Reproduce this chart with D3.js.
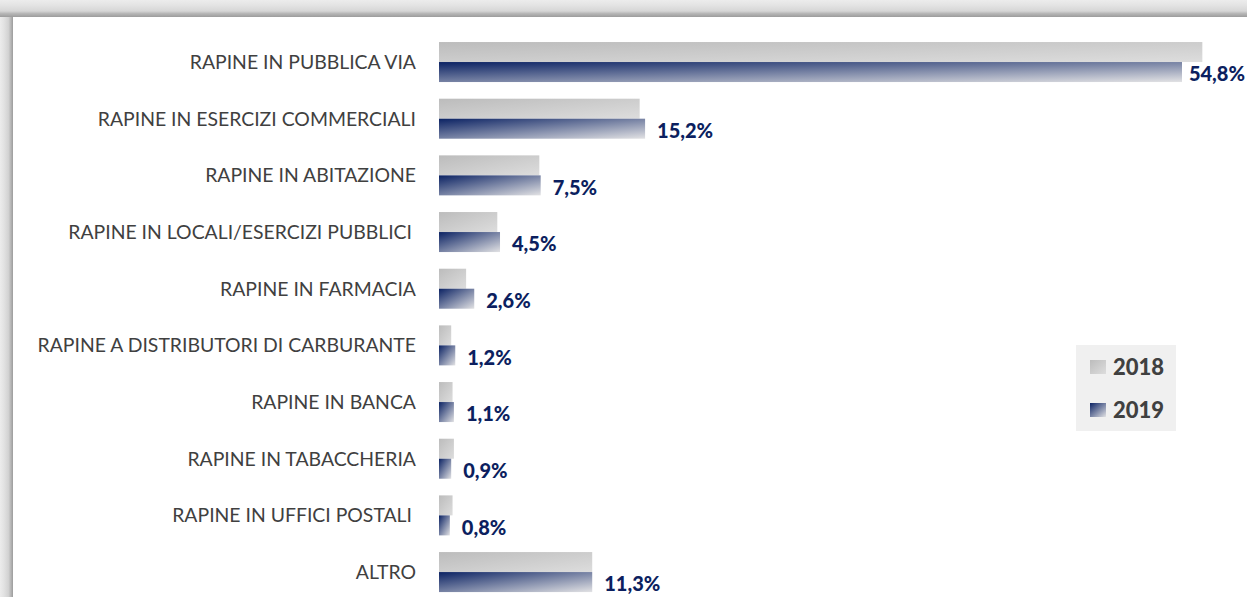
<!DOCTYPE html>
<html>
<head>
<meta charset="utf-8">
<script src="https://cdn.jsdelivr.net/npm/d3@7"></script>
<style>
  html, body { margin: 0; padding: 0; background: #fff; }
  .cat { font-family: Lato, sans-serif; font-size: 19.4px; fill: #404040; }
  .val { font-family: Lato, sans-serif; font-size: 20px; font-weight: 900; fill: #0c1f5f; }
  .leg { font-family: Lato, sans-serif; font-size: 22px; font-weight: 900; fill: #404040; }
</style>
</head>
<body>
<script>
var W = 1247, H = 597;

// data
var categories = [
  "RAPINE IN PUBBLICA VIA",
  "RAPINE IN ESERCIZI COMMERCIALI",
  "RAPINE IN ABITAZIONE",
  "RAPINE IN LOCALI/ESERCIZI PUBBLICI",
  "RAPINE IN FARMACIA",
  "RAPINE A DISTRIBUTORI DI CARBURANTE",
  "RAPINE IN BANCA",
  "RAPINE IN TABACCHERIA",
  "RAPINE IN UFFICI POSTALI",
  "ALTRO"
];
var years = ["2018", "2019"];
var values2018 = [56.3, 14.8, 7.4, 4.3, 2.0, 0.9, 1.0, 1.1, 1.0, 11.3];
var values2019 = [54.8, 15.2, 7.5, 4.5, 2.6, 1.2, 1.1, 0.9, 0.8, 11.3];
var labels2019 = ["54,8%", "15,2%", "7,5%", "4,5%", "2,6%", "1,2%", "1,1%", "0,9%", "0,8%", "11,3%"];
// some labels carry a trailing blank in the source
var labelPad = [0, 0, 0, 4, 0, 0, 0, 0, 4, 0];

var rows = categories.map(function(c, i) {
  return {cat: c, v2018: values2018[i], v2019: values2019[i], lab: labels2019[i], pad: labelPad[i]};
});

var svg = d3.select("body").append("svg")
    .attr("width", W)
    .attr("height", H);

var defs = svg.append("defs");

// bar gradients (diagonal, scaled with the bar)
function diag(id, c0, c1) {
  var g = defs.append("linearGradient").attr("id", id)
      .attr("x1", 0).attr("y1", 0).attr("x2", 1).attr("y2", 1);
  g.append("stop").attr("offset", 0).attr("stop-color", c0);
  g.append("stop").attr("offset", 1).attr("stop-color", c1);
}
diag("g2018", "#bcbcbc", "#dddddd");
diag("g2019", "#0b2263", "#e2e2e4");

// frame shadow
var gTop = defs.append("linearGradient").attr("id", "frameTop")
    .attr("x1", 0).attr("y1", 0).attr("x2", 0).attr("y2", 1);
[[0, "#ececec"], [0.3, "#e4e4e4"], [0.65, "#d6d6d6"], [0.8, "#b6b6b6"], [1, "#9c9c9c"]].forEach(function(s) {
  gTop.append("stop").attr("offset", s[0]).attr("stop-color", s[1]);
});
var gLeft = defs.append("linearGradient").attr("id", "frameLeft")
    .attr("x1", 0).attr("y1", 0).attr("x2", 1).attr("y2", 0);
[[0, "#ececec"], [0.3, "#e2e2e2"], [0.65, "#d2d2d2"], [0.85, "#b4b4b4"], [1, "#9c9c9c"]].forEach(function(s) {
  gLeft.append("stop").attr("offset", s[0]).attr("stop-color", s[1]);
});

svg.append("rect").attr("x", 0).attr("y", 0).attr("width", W).attr("height", H).attr("fill", "#ffffff");
svg.append("rect").attr("x", 0).attr("y", 0).attr("width", 13).attr("height", H).attr("fill", "url(#frameLeft)");
svg.append("rect").attr("x", 0).attr("y", 0).attr("width", W).attr("height", 17).attr("fill", "url(#frameTop)");

// scales
var x = d3.scaleLinear()
    .domain([0, 60])
    .range([439, 1252.5]);

var y = d3.scaleBand()
    .domain(categories)
    .range([33.7, 600.4])
    .paddingInner(0.294)
    .paddingOuter(0.147);

var ySub = d3.scaleBand()
    .domain(years)
    .range([0, y.bandwidth()]);

// category labels
svg.append("g").selectAll("text")
    .data(rows)
    .enter()
    .append("text")
    .attr("class", "cat")
    .attr("x", function(d) { return 416 - d.pad; })
    .attr("y", function(d) { return y(d.cat) + y.bandwidth() / 2; })
    .attr("dy", "0.36em")
    .attr("text-anchor", "end")
    .text(function(d) { return d.cat; });

// bars
var groups = svg.append("g").selectAll("g")
    .data(rows)
    .enter()
    .append("g")
    .attr("transform", function(d) { return "translate(0," + y(d.cat) + ")"; });

groups.append("rect")
    .attr("x", x(0))
    .attr("y", ySub("2018"))
    .attr("width", function(d) { return x(d.v2018) - x(0); })
    .attr("height", ySub.bandwidth())
    .attr("fill", "url(#g2018)");

groups.append("rect")
    .attr("x", x(0))
    .attr("y", ySub("2019"))
    .attr("width", function(d) { return x(d.v2019) - x(0); })
    .attr("height", ySub.bandwidth())
    .attr("fill", "url(#g2019)");

// value labels (2019)
groups.append("text")
    .attr("class", "val")
    .attr("x", function(d) { return x(d.v2019) + 12; })
    .attr("y", ySub("2019") + ySub.bandwidth() / 2 + 2)
    .attr("dy", "0.36em")
    .text(function(d) { return d.lab; })
    .each(function() {
      // keep the label inside the picture
      var w = this.getComputedTextLength();
      var xx = +d3.select(this).attr("x");
      if (xx + w > W - 2) d3.select(this).attr("x", W - 2 - w);
    });

// legend
var leg = svg.append("g").attr("transform", "translate(1076,345)");
leg.append("rect")
    .attr("width", 100)
    .attr("height", 86)
    .attr("fill", "#f0f0f0");

var legItems = leg.selectAll("g.item")
    .data(years)
    .enter()
    .append("g")
    .attr("class", "item")
    .attr("transform", function(d, i) { return "translate(14," + (22 + i * 43) + ")"; });

legItems.append("rect")
    .attr("x", 0)
    .attr("y", -7)
    .attr("width", 16)
    .attr("height", 14)
    .attr("fill", function(d) { return "url(#g" + d + ")"; });

legItems.append("text")
    .attr("class", "leg")
    .attr("x", 23)
    .attr("y", 0)
    .attr("dy", "0.36em")
    .text(function(d) { return d; });
</script>
</body>
</html>
